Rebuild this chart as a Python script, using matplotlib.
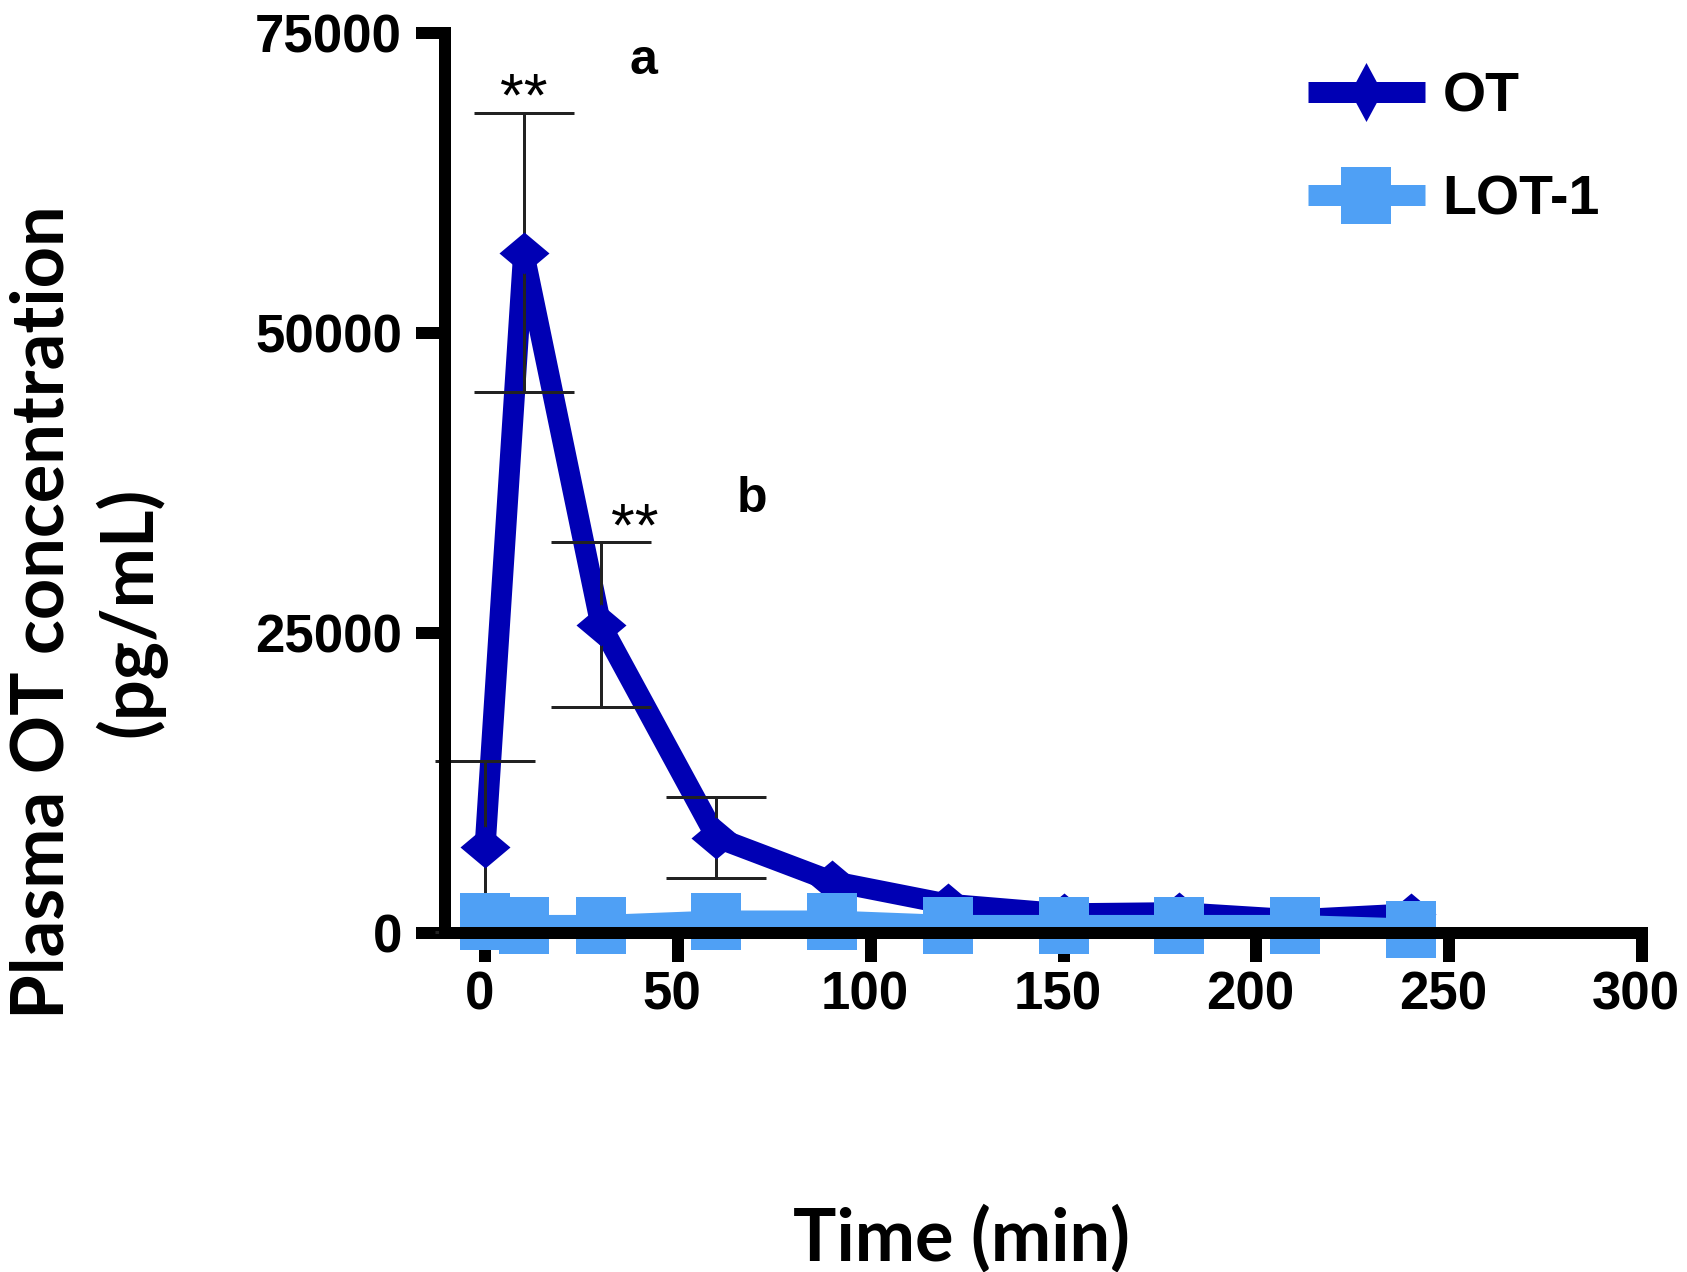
import matplotlib
matplotlib.use("Agg")
import matplotlib.pyplot as plt
from matplotlib.path import Path
from matplotlib.lines import Line2D
import matplotlib.transforms as mtransforms

# ---- data ----
time_min = [0, 10, 30, 60, 90, 120, 150, 180, 210, 240]
ot_mean = [7200, 56700, 25700, 7950, 4300, 2400, 1600, 1700, 1100, 1600]
ot_sem_time = [0, 10, 30, 60]
ot_sem = [7100, 11600, 6900, 3350]
lot1_mean = [1000, 630, 630, 1000, 1000, 630, 630, 630, 630, 330]
x_ticks = [0, 50, 100, 150, 200, 250, 300]
y_ticks = [0, 25000, 50000, 75000]
y_ticklabels = ["0", "25000", "50000", "75000"]
series_labels = ["OT", "LOT-1"]
sig_marks = [(10, 68150, "**"), (38.9, 32300, "**")]
panel_marks = [(41, 71570, "a"), (69.3, 35120, "b")]

OT_COLOR = "#0000B4"
LOT_COLOR = "#4FA0F5"
DPI = 100
px = 72.0 / DPI  # points per pixel

fig = plt.figure(figsize=(16.87, 12.72), dpi=DPI)
W, H = 1687, 1272
ax = fig.add_axes([445 / W, 1 - 933 / H, (1642 - 445) / W, (933 - 33) / H])

diamond_chart = Path([(0, 0.84), (1, 0), (0, -0.84), (-1, 0), (0, 0.84)],
                     [Path.MOVETO, Path.LINETO, Path.LINETO, Path.LINETO, Path.CLOSEPOLY])
diamond_leg = Path([(0, 1), (0.54, 0), (0, -1), (-0.54, 0), (0, 1)],
                   [Path.MOVETO, Path.LINETO, Path.LINETO, Path.LINETO, Path.CLOSEPOLY])
rect = Path([(-0.86, -1), (0.86, -1), (0.86, 1), (-0.86, 1), (-0.86, -1)],
            [Path.MOVETO, Path.LINETO, Path.LINETO, Path.LINETO, Path.CLOSEPOLY])

lw = 21 * px
# OT line
ax.plot(time_min, ot_mean, color=OT_COLOR, lw=lw, solid_joinstyle="round",
        solid_capstyle="butt", zorder=2.0, clip_on=False)
# OT error bars
ax.errorbar(ot_sem_time, ot_mean[:len(ot_sem_time)], yerr=ot_sem, fmt="none",
            ecolor="#222222", elinewidth=3 * px, capsize=50 * px, capthick=3 * px,
            zorder=2.1, clip_on=False)
# OT markers
ax.plot(time_min, ot_mean, ls="none", marker=diamond_chart, ms=50 * px,
        color=OT_COLOR, mec=OT_COLOR, mew=0, zorder=2.2, clip_on=False)
# LOT-1 line and markers
ax.plot(time_min, lot1_mean, color=LOT_COLOR, lw=lw, solid_joinstyle="round",
        solid_capstyle="butt", zorder=2.3, clip_on=False)
ax.plot(time_min, lot1_mean, ls="none", marker=rect, ms=57 * px,
        color=LOT_COLOR, mec=LOT_COLOR, mew=0, zorder=2.4, clip_on=False)

ax.set_xlim(-10.4, 300)
ax.set_ylim(0, 75000)
ax.set_xticks(x_ticks)
ax.set_xticklabels([str(t) for t in x_ticks])
ax.set_yticks(y_ticks)
ax.set_yticklabels(y_ticklabels)

for s in ["top", "right"]:
    ax.spines[s].set_visible(False)
for s in ["left", "bottom"]:
    ax.spines[s].set_linewidth(12 * px)
    ax.spines[s].set_capstyle("projecting")

ax.tick_params(axis="both", which="major", length=29 * px, width=12 * px,
               color="black", direction="out")
ax.tick_params(axis="x", pad=6)
ax.tick_params(axis="y", pad=10)
shift = mtransforms.ScaledTranslation(-6 / DPI, 0, fig.dpi_scale_trans)
for lab in ax.get_xticklabels():
    lab.set_transform(lab.get_transform() + shift)
for lab in ax.get_xticklabels() + ax.get_yticklabels():
    lab.set_fontfamily(["Liberation Sans", "DejaVu Sans"])
    lab.set_fontweight("bold")
    lab.set_fontsize(38)

# annotations
for x, y, t in sig_marks:
    ax.text(x, y, t, ha="center", va="baseline", fontsize=44,
            family=["Liberation Sans", "DejaVu Sans"], color="black", zorder=5)
for x, y, t in panel_marks:
    ax.text(x, y, t, ha="center", va="baseline", fontsize=36, fontweight="bold",
            family=["Liberation Sans", "DejaVu Sans"], color="black", zorder=5)

# axis labels
lab_font = ["Lato", "DejaVu Sans"]
fig.text(961 / W, 1 - 1260 / H, "Time (min)", ha="center", va="baseline",
         fontsize=52, fontweight="bold", family=lab_font)
fig.text(88 / W, 1 - 612 / H, "Plasma OT concentration\n(pg/mL)", ha="center",
         va="center", rotation=90, fontsize=52, fontweight="bold", family=lab_font,
         multialignment="center", linespacing=1.3)

# legend
handles = [
    Line2D([], [], color=OT_COLOR, lw=lw, marker=diamond_leg, ms=59 * px, mew=0,
           solid_capstyle="butt"),
    Line2D([], [], color=LOT_COLOR, lw=lw, marker=rect, ms=57 * px, mew=0,
           solid_capstyle="butt"),
]
leg = ax.legend(handles, series_labels, loc="upper left",
                bbox_to_anchor=(1308 / W, 1 - 71 / H), bbox_transform=fig.transFigure,
                frameon=False, borderpad=0, borderaxespad=0, handlelength=2.1,
                handletextpad=0.32, labelspacing=0.93,
                prop=dict(family=["Liberation Sans", "DejaVu Sans"], weight="bold", size=40))

fig.savefig("out.png", dpi=DPI)
